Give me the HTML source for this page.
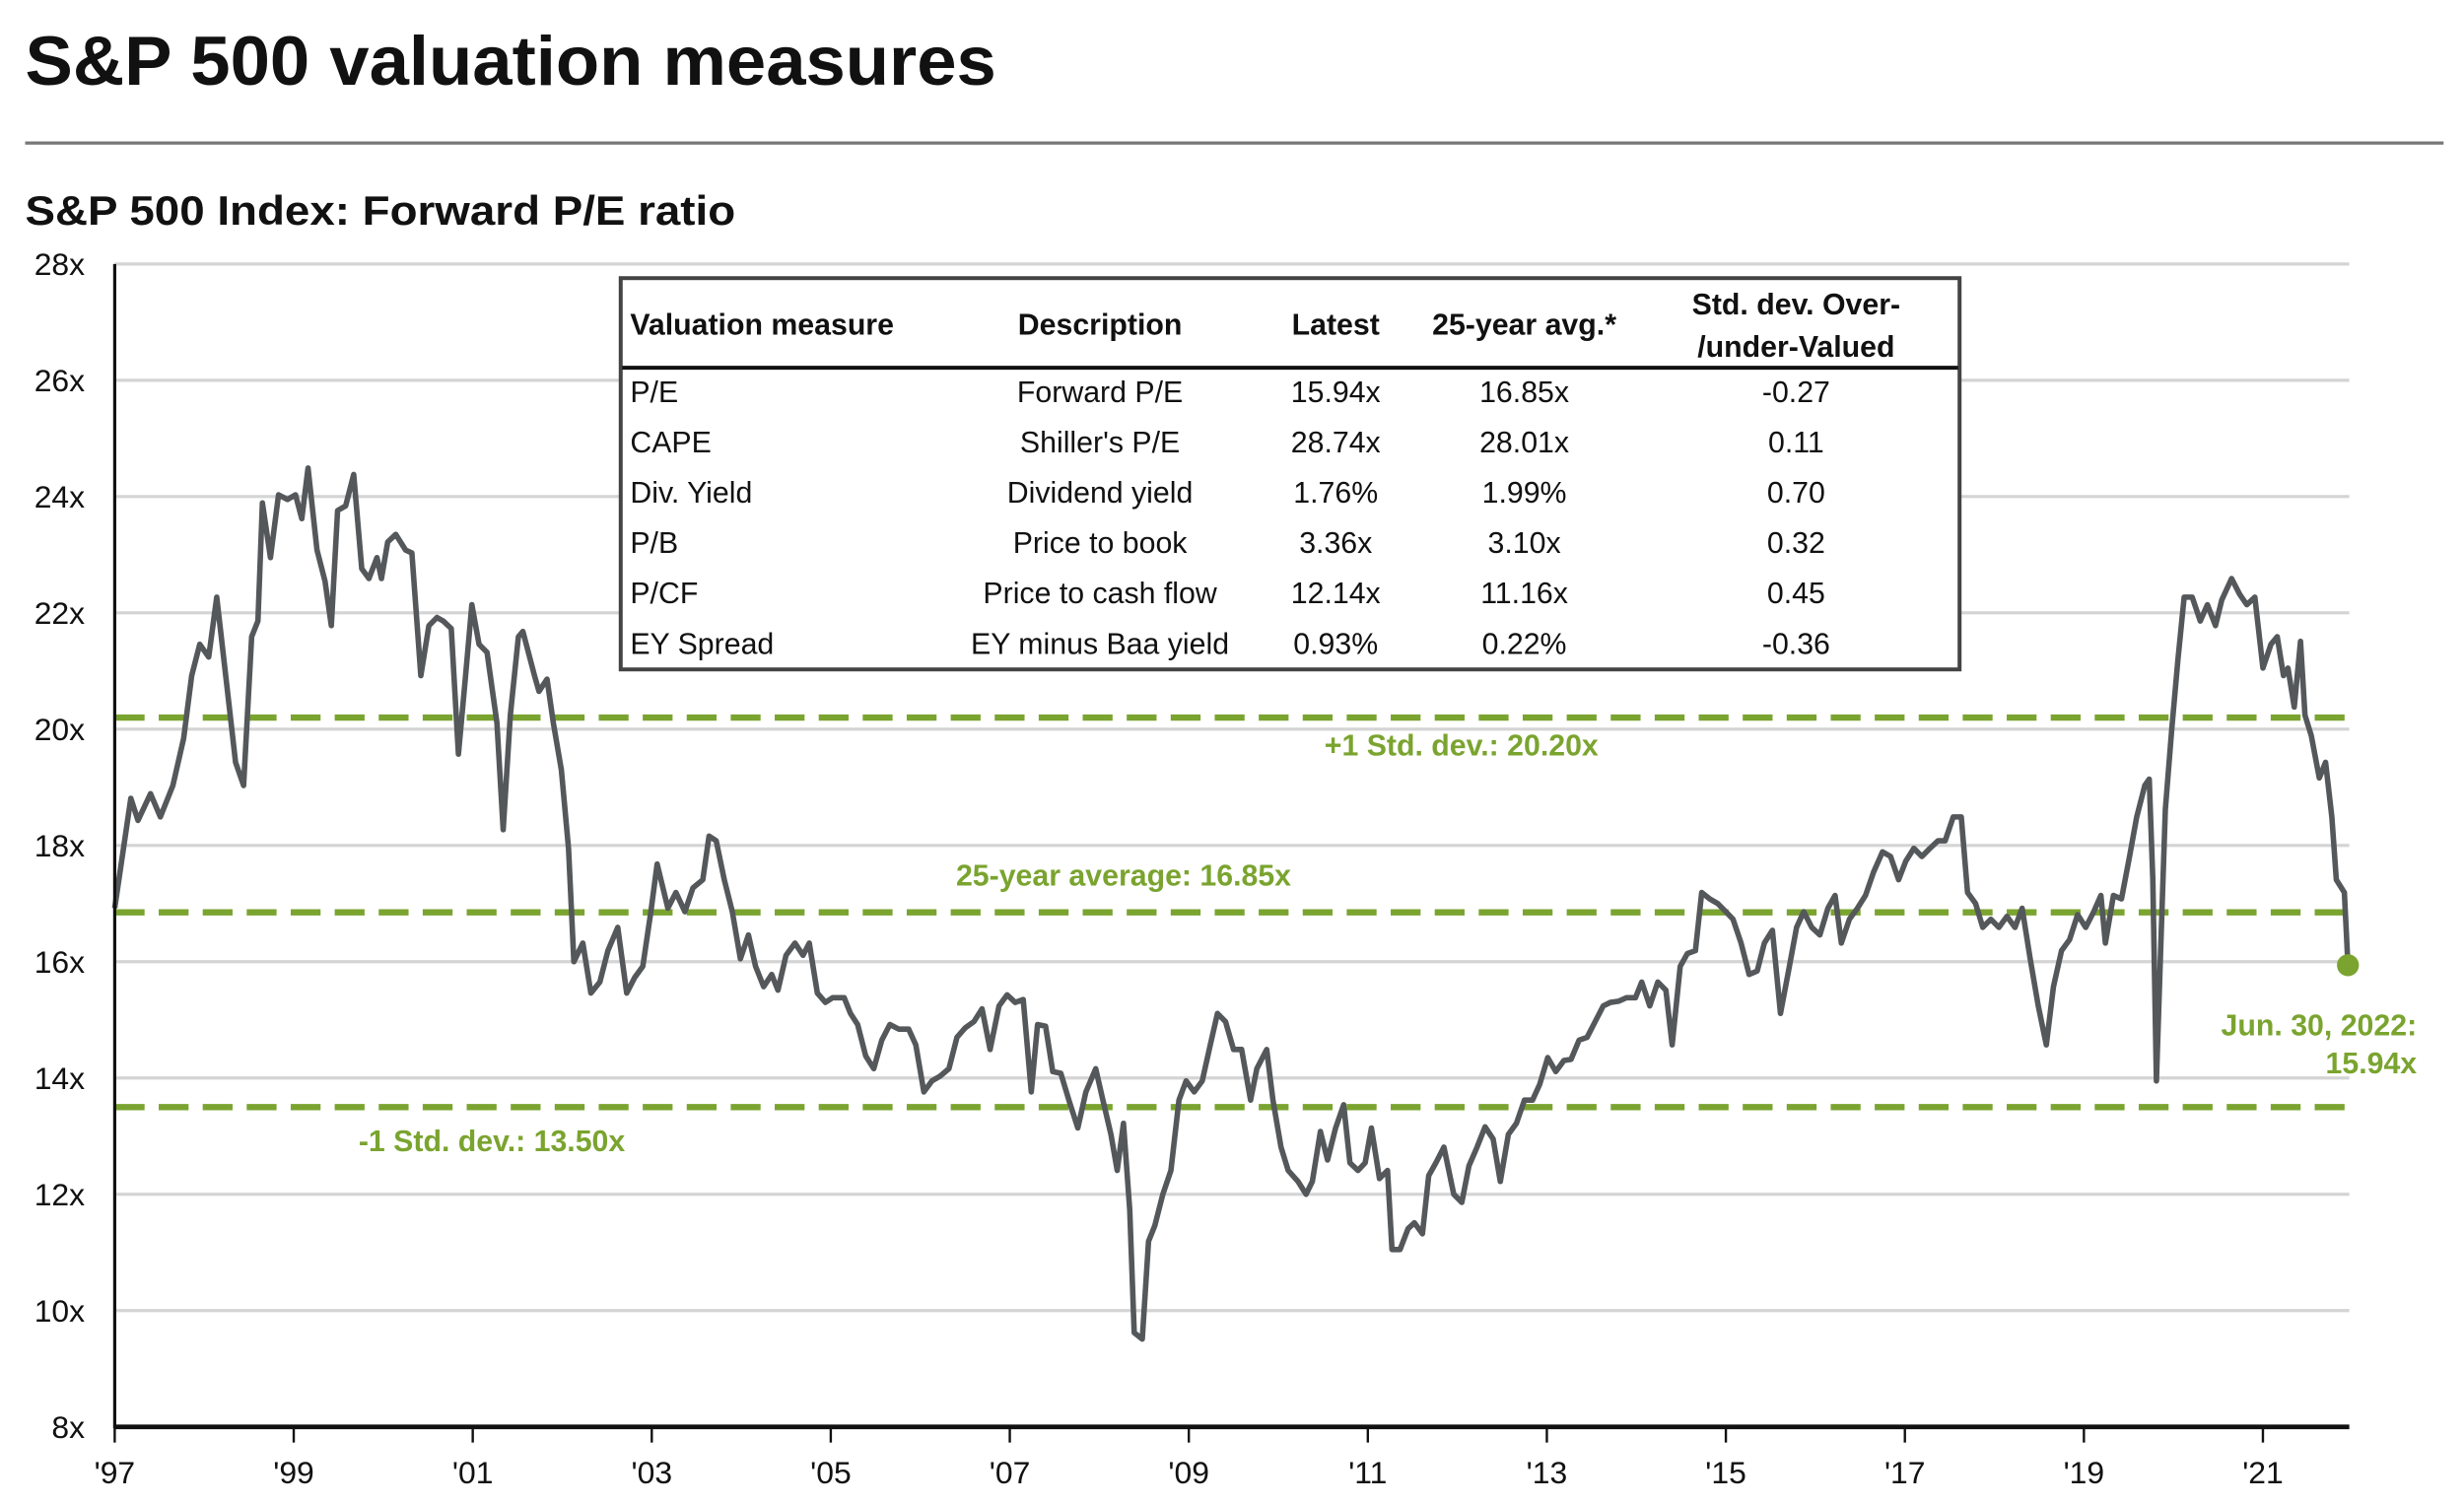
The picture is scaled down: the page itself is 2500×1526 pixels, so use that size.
<!DOCTYPE html>
<html><head><meta charset="utf-8"><style>
html,body{margin:0;padding:0;background:#fff;}
svg{display:block;font-family:"Liberation Sans",Arial,sans-serif;}
</style></head><body>
<svg id="chart" width="2500" height="1526" viewBox="0 0 1568 957.1" xmlns="http://www.w3.org/2000/svg">
<text x="16" y="54" font-size="44" font-weight="bold" fill="#111" textLength="618" lengthAdjust="spacingAndGlyphs">S&amp;P 500 valuation measures</text>
<line x1="16" y1="91" x2="1555" y2="91" stroke="#777" stroke-width="2"/>
<text x="16" y="143" font-size="26" font-weight="bold" fill="#111" textLength="452" lengthAdjust="spacingAndGlyphs">S&amp;P 500 Index: Forward P/E ratio</text>
<g id="grid"></g>
<g id="refs"></g>
<g id="series"></g>
<g id="axes"></g>
<g id="table">
<rect x="395" y="177" width="852" height="249" fill="#fff" stroke="#444" stroke-width="2.5"/>
<line x1="396" y1="234" x2="1246" y2="234" stroke="#111" stroke-width="2.5"/>
<g font-size="19" font-weight="bold" fill="#111">
<text x="401" y="213">Valuation measure</text>
<text x="700" y="213" text-anchor="middle">Description</text>
<text x="850" y="213" text-anchor="middle">Latest</text>
<text x="970" y="213" text-anchor="middle">25-year avg.*</text>
<text x="1143" y="200" text-anchor="middle">Std. dev. Over-</text>
<text x="1143" y="227" text-anchor="middle">/under-Valued</text>
</g>
<g font-size="19" fill="#111">
<text x="401" y="256">P/E</text><text x="700" y="256" text-anchor="middle">Forward P/E</text><text x="850" y="256" text-anchor="middle">15.94x</text><text x="970" y="256" text-anchor="middle">16.85x</text><text x="1143" y="256" text-anchor="middle">-0.27</text>
<text x="401" y="288">CAPE</text><text x="700" y="288" text-anchor="middle">Shiller's P/E</text><text x="850" y="288" text-anchor="middle">28.74x</text><text x="970" y="288" text-anchor="middle">28.01x</text><text x="1143" y="288" text-anchor="middle">0.11</text>
<text x="401" y="320">Div. Yield</text><text x="700" y="320" text-anchor="middle">Dividend yield</text><text x="850" y="320" text-anchor="middle">1.76%</text><text x="970" y="320" text-anchor="middle">1.99%</text><text x="1143" y="320" text-anchor="middle">0.70</text>
<text x="401" y="352">P/B</text><text x="700" y="352" text-anchor="middle">Price to book</text><text x="850" y="352" text-anchor="middle">3.36x</text><text x="970" y="352" text-anchor="middle">3.10x</text><text x="1143" y="352" text-anchor="middle">0.32</text>
<text x="401" y="384">P/CF</text><text x="700" y="384" text-anchor="middle">Price to cash flow</text><text x="850" y="384" text-anchor="middle">12.14x</text><text x="970" y="384" text-anchor="middle">11.16x</text><text x="1143" y="384" text-anchor="middle">0.45</text>
<text x="401" y="416">EY Spread</text><text x="700" y="416" text-anchor="middle">EY minus Baa yield</text><text x="850" y="416" text-anchor="middle">0.93%</text><text x="970" y="416" text-anchor="middle">0.22%</text><text x="1143" y="416" text-anchor="middle">-0.36</text>
</g>
</g>
</svg>
<script>
const yTicks = [8,10,12,14,16,18,20,22,24,26,28];
const xTickYears = [1997,1999,2001,2003,2005,2007,2009,2011,2013,2015,2017,2019,2021];
const xTickLabels = ["'97","'99","'01","'03","'05","'07","'09","'11","'13","'15","'17","'19","'21"];
const refValues = [20.20, 16.85, 13.50];
const refLabels = ["+1 Std. dev.: 20.20x","25-year average: 16.85x","-1 Std. dev.: 13.50x"];
const dates = [1997.00,1997.18,1997.26,1997.40,1997.51,1997.65,1997.77,1997.86,1997.95,1998.05,1998.14,1998.26,1998.35,1998.44,1998.53,1998.60,1998.65,1998.74,1998.83,1998.93,1999.02,1999.09,1999.16,1999.26,1999.35,1999.42,1999.49,1999.58,1999.67,1999.76,1999.84,1999.93,1999.98,2000.05,2000.14,2000.25,2000.32,2000.42,2000.51,2000.60,2000.67,2000.76,2000.84,2000.92,2000.99,2001.07,2001.16,2001.27,2001.34,2001.42,2001.51,2001.56,2001.69,2001.74,2001.83,2001.90,2001.99,2002.07,2002.13,2002.23,2002.32,2002.42,2002.51,2002.62,2002.72,2002.81,2002.90,2002.99,2003.06,2003.18,2003.27,2003.37,2003.46,2003.57,2003.64,2003.72,2003.81,2003.90,2003.99,2004.08,2004.16,2004.25,2004.34,2004.41,2004.50,2004.60,2004.69,2004.76,2004.85,2004.94,2005.02,2005.15,2005.22,2005.30,2005.39,2005.48,2005.57,2005.66,2005.76,2005.87,2005.95,2006.04,2006.13,2006.22,2006.32,2006.41,2006.50,2006.60,2006.69,2006.78,2006.88,2006.97,2007.06,2007.15,2007.24,2007.31,2007.40,2007.48,2007.57,2007.66,2007.76,2007.85,2007.96,2008.04,2008.13,2008.20,2008.27,2008.34,2008.39,2008.48,2008.55,2008.62,2008.71,2008.80,2008.89,2008.97,2009.06,2009.15,2009.24,2009.32,2009.41,2009.50,2009.59,2009.69,2009.76,2009.87,2009.94,2010.03,2010.11,2010.22,2010.31,2010.38,2010.47,2010.55,2010.64,2010.73,2010.80,2010.89,2010.97,2011.04,2011.13,2011.22,2011.27,2011.36,2011.45,2011.52,2011.61,2011.68,2011.76,2011.85,2011.96,2012.05,2012.13,2012.22,2012.31,2012.40,2012.48,2012.57,2012.66,2012.75,2012.84,2012.92,2013.01,2013.10,2013.19,2013.27,2013.36,2013.45,2013.54,2013.63,2013.71,2013.80,2013.89,2013.99,2014.06,2014.15,2014.24,2014.33,2014.40,2014.49,2014.57,2014.66,2014.73,2014.82,2014.91,2015.00,2015.08,2015.17,2015.26,2015.35,2015.43,2015.52,2015.61,2015.70,2015.79,2015.87,2015.96,2016.05,2016.14,2016.22,2016.29,2016.38,2016.47,2016.56,2016.65,2016.75,2016.84,2016.93,2017.01,2017.10,2017.19,2017.28,2017.37,2017.45,2017.54,2017.63,2017.70,2017.79,2017.87,2017.96,2018.05,2018.14,2018.23,2018.31,2018.40,2018.49,2018.58,2018.66,2018.75,2018.84,2018.93,2019.02,2019.11,2019.19,2019.24,2019.33,2019.42,2019.51,2019.59,2019.68,2019.73,2019.77,2019.81,2019.86,2019.91,2019.98,2020.05,2020.12,2020.21,2020.30,2020.38,2020.47,2020.54,2020.65,2020.74,2020.82,2020.91,2021.00,2021.09,2021.16,2021.23,2021.28,2021.35,2021.42,2021.47,2021.54,2021.63,2021.70,2021.77,2021.82,2021.91,2021.95];
const peValues = [16.92,18.81,18.43,18.89,18.49,19.03,19.84,20.92,21.46,21.24,22.27,20.65,19.43,19.03,21.59,21.86,23.89,22.95,24.03,23.95,24.03,23.62,24.49,23.08,22.54,21.78,23.76,23.84,24.38,22.76,22.59,22.95,22.59,23.22,23.35,23.08,23.03,20.92,21.78,21.92,21.86,21.73,19.57,20.92,22.14,21.46,21.32,20.11,18.27,20.24,21.59,21.68,20.92,20.65,20.86,20.11,19.30,17.95,16.00,16.32,15.46,15.65,16.19,16.59,15.46,15.73,15.92,16.86,17.68,16.92,17.19,16.86,17.27,17.41,18.16,18.08,17.41,16.86,16.05,16.46,15.92,15.57,15.78,15.51,16.11,16.32,16.11,16.32,15.46,15.30,15.38,15.38,15.11,14.92,14.38,14.16,14.65,14.92,14.84,14.84,14.57,13.76,13.95,14.03,14.16,14.70,14.86,14.97,15.19,14.49,15.24,15.43,15.30,15.35,13.76,14.92,14.89,14.11,14.08,13.62,13.14,13.76,14.16,13.62,13.03,12.41,13.22,11.73,9.62,9.51,11.19,11.46,12.00,12.41,13.62,13.95,13.76,13.95,14.57,15.11,14.97,14.49,14.49,13.62,14.16,14.49,13.62,12.81,12.41,12.22,12.00,12.22,13.08,12.59,13.14,13.54,12.54,12.41,12.54,13.14,12.27,12.41,11.05,11.05,11.41,11.51,11.32,12.32,12.54,12.81,12.00,11.86,12.49,12.81,13.16,12.95,12.22,13.03,13.22,13.62,13.62,13.89,14.35,14.11,14.30,14.32,14.65,14.70,14.97,15.24,15.30,15.32,15.38,15.38,15.65,15.24,15.65,15.51,14.57,15.92,16.14,16.19,17.19,17.08,17.00,16.86,16.73,16.32,15.78,15.84,16.32,16.54,15.11,15.84,16.59,16.86,16.59,16.46,16.92,17.14,16.32,16.73,16.92,17.14,17.54,17.89,17.81,17.41,17.73,17.95,17.81,17.95,18.08,18.08,18.49,18.49,17.19,17.00,16.59,16.73,16.59,16.78,16.59,16.92,16.05,15.24,14.57,15.57,16.19,16.38,16.81,16.59,16.86,17.14,16.32,17.14,17.08,17.81,18.49,19.03,19.14,17.41,13.95,16.32,18.62,19.97,21.19,22.27,22.27,21.86,22.14,21.78,22.22,22.59,22.32,22.14,22.27,21.05,21.46,21.59,20.92,21.05,20.38,21.51,20.24,19.89,19.16,19.43,18.49,17.41,17.19,15.94];
const latestLabel = ["Jun. 30, 2022:", "15.94x"];

const NS = "http://www.w3.org/2000/svg";
const X0 = 73, XPER = 56.96, Y8 = 908, YPER = 37, XR = 1495;
function xs(t){ return X0 + (t - 1997) * XPER; }
function ys(v){ return Y8 - (v - 8) * YPER; }
function mk(tag, attrs, parent){ const e = document.createElementNS(NS, tag); for (const k in attrs) e.setAttribute(k, attrs[k]); parent.appendChild(e); return e; }

const grid = document.getElementById('grid');
const axes = document.getElementById('axes');
const refs = document.getElementById('refs');
const series = document.getElementById('series');

yTicks.forEach(v => {
  if (v > 8) {
    const g = mk('line', {x1: X0, x2: XR, y1: ys(v), y2: ys(v), stroke: '#d4d4d4', 'stroke-width': 2}, grid);
    
    
  }
  const t = mk('text', {x: 54, y: ys(v) + 7, 'text-anchor': 'end', 'font-size': 20, fill: '#111'}, axes);
  t.textContent = v + 'x';
  
  
});

const yAxis = mk('line', {x1: X0, x2: X0, y1: ys(28), y2: Y8 + 1, stroke: '#111', 'stroke-width': 2}, axes);


const xAxis = mk('line', {x1: X0, x2: XR, y1: Y8, y2: Y8, stroke: '#111', 'stroke-width': 3}, axes);



xTickYears.forEach((yr, i) => {
  const tk = mk('line', {x1: xs(yr), x2: xs(yr), y1: Y8, y2: Y8 + 10, stroke: '#111', 'stroke-width': 1.5}, axes);
  
  
  const t = mk('text', {x: xs(yr), y: Y8 + 36, 'text-anchor': 'middle', 'font-size': 20, fill: '#111'}, axes);
  t.textContent = xTickLabels[i];
  
  
});

const refLabelPos = [[930, 17], [715, -24], [313, 21]];
refValues.forEach((v, i) => {
  const l = mk('line', {x1: X0, x2: XR, y1: ys(v), y2: ys(v), stroke: '#7aa42f', 'stroke-width': 4, 'stroke-dasharray': '19 9'}, refs);
  
  
  const t = mk('text', {x: refLabelPos[i][0], y: ys(v) + refLabelPos[i][1] + 7, 'text-anchor': 'middle', 'font-size': 19, 'font-weight': 'bold', fill: '#7aa42f'}, refs);
  t.textContent = refLabels[i];
  
  
});

let d = '';
dates.forEach((t, i) => { d += (i ? 'L' : 'M') + xs(t).toFixed(2) + ',' + ys(peValues[i]).toFixed(2); });
const path = mk('path', {d: d, fill: 'none', stroke: '#54585a', 'stroke-width': 3.5, 'stroke-linejoin': 'round'}, series);



const li = dates.length - 1;
const dot = mk('circle', {cx: xs(dates[li]), cy: ys(peValues[li]), r: 7, fill: '#7aa42f'}, series);


latestLabel.forEach((s, i) => {
  const t = mk('text', {x: 1538, y: 659 + i * 24, 'text-anchor': 'end', 'font-size': 19, 'font-weight': 'bold', fill: '#7aa42f'}, series);
  t.textContent = s;
  
  
});
</script>
</body></html>
